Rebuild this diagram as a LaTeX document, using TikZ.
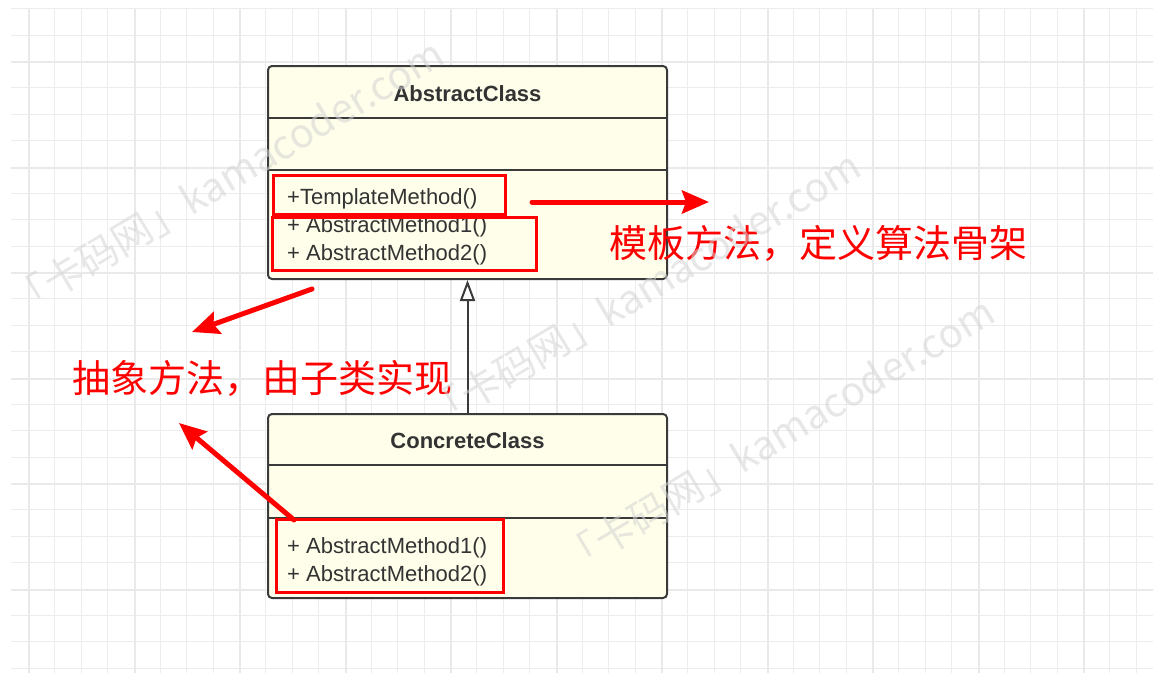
\documentclass[tikz,border=0pt]{standalone}
\usepackage{fontspec}
\setmainfont{Liberation Sans}
\newfontfamily\cjk{Noto Sans CJK SC}
\usetikzlibrary{arrows.meta}

\definecolor{gridfine}{HTML}{ECECEC}
\definecolor{gridbold}{HTML}{E9E9E9}
\definecolor{boxfill}{HTML}{FEFEEA}
\definecolor{boxline}{HTML}{3A3A3A}
\definecolor{ink}{HTML}{333333}
\definecolor{mark}{HTML}{FF0000}
\definecolor{wmgray}{HTML}{D4D4D4}

\tikzset{
  gridthin/.style={draw=gridfine, line width=1pt},
  gridthick/.style={draw=gridbold, line width=2pt},
  classbox/.style={draw=boxline, fill=boxfill, line width=2pt, rounded corners=4pt,
    inner sep=0pt, minimum width=399pt},
  divider/.style={draw=boxline, line width=2pt},
  classtitle/.style={text=ink, font=\fontsize{22}{26}\selectfont\bfseries, inner sep=0pt,
    anchor=base},
  member/.style={text=ink, font=\fontsize{22}{26}\selectfont, inner sep=0pt,
    anchor=base west},
  markbox/.style={draw=mark, line width=3pt},
  marktext/.style={text=mark, font=\cjk\fontsize{38}{44}\selectfont, inner sep=0pt, anchor=west},
  markarrow/.style={draw=mark, line width=5pt, line cap=round,
    -{Stealth[length=27pt, width=23pt, inset=4pt]}},
  inherit/.style={draw=boxline, line width=2pt,
    -{Triangle[open, fill=white, length=21pt, width=15pt]}},
  watermark/.style={text=wmgray, text opacity=0.55, font=\cjk\fontsize{40}{46}\selectfont,
    rotate=31, inner sep=0pt}
}

\begin{document}
\begin{tikzpicture}[x=1pt, y=-1pt]
  \useasboundingbox (0,0) rectangle (1153,673);
  \fill[white] (0,0) rectangle (1153,673);

  % squared paper: thin lines snapped to pixel centres, bold lines on pixel edges
  \foreach \k in {0,...,42}{
    \pgfmathsetmacro{\gx}{round(28+26.375*\k)+0.5}
    \draw[gridthin] (\gx,9) -- (\gx,673);
  }
  \foreach \k in {0,...,25}{
    \pgfmathsetmacro{\gy}{round(8.25+26.375*\k)+0.5}
    \draw[gridthin] (11,\gy) -- (1153,\gy);
  }
  \foreach \k in {0,...,10}{
    \pgfmathsetmacro{\gx}{round(28+105.5*\k)+1}
    \draw[gridthick] (\gx,9) -- (\gx,673);
  }
  \foreach \k in {0,...,5}{
    \pgfmathsetmacro{\gy}{round(61+105.5*\k)+1}
    \draw[gridthick] (11,\gy) -- (1153,\gy);
  }

  % abstract class
  \node[classbox, minimum height=213pt] (abs) at (467.5,172.5) {};
  \draw[divider] (268,118) -- (667,118);
  \draw[divider] (268,170) -- (667,170);
  \node[classtitle] (absname) at (467.5,101) {AbstractClass};
  \node[member] (tm) at (287,204) {+TemplateMethod()};
  \node[member] (am1) at (287,232) {+ AbstractMethod1()};
  \node[member] (am2) at (287,260) {+ AbstractMethod2()};

  % concrete class
  \node[classbox, minimum height=184pt] (con) at (467.5,506) {};
  \draw[divider] (268,465) -- (667,465);
  \draw[divider] (268,518) -- (667,518);
  \node[classtitle] (conname) at (467.5,448) {ConcreteClass};
  \node[member] (cm1) at (287,553) {+ AbstractMethod1()};
  \node[member] (cm2) at (287,581) {+ AbstractMethod2()};

  % generalisation
  \draw[inherit] (con.north) -- (abs.south);

  % highlights
  \draw[markbox] (273,175) rectangle (505,214);
  \draw[markbox] (272,217) rectangle (536,270);
  \draw[markbox] (276,519) rectangle (503,592);

  % callouts
  \coordinate (p1s) at (532,202);
  \coordinate (p1e) at (709,202);
  \coordinate (p2s) at (312,289);
  \coordinate (p2e) at (192,332);
  \coordinate (p3s) at (294,520);
  \coordinate (p3e) at (179,423);
  \draw[markarrow] (p1s) -- (p1e);
  \draw[markarrow] (p2s) -- (p2e);
  \draw[markarrow] (p3s) -- (p3e);
  \node[marktext] (note1) at (609,243) {模板方法，定义算法骨架};
  \node[marktext] (note2) at (72,378) {抽象方法，由子类实现};

  % site stamp
  \node[watermark] (wm1) at (226,178) {「卡码网」kamacoder.com};
  \node[watermark] (wm2) at (643,290) {「卡码网」kamacoder.com};
  \node[watermark] (wm3) at (777,436) {「卡码网」kamacoder.com};
\end{tikzpicture}
\end{document}
